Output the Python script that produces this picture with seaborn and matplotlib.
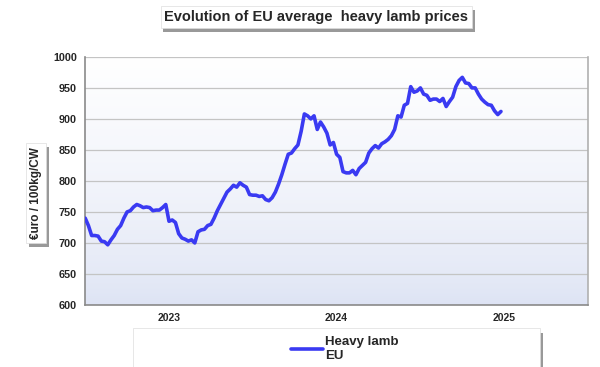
import numpy as np
import pandas as pd
import seaborn as sns
import matplotlib.pyplot as plt
import matplotlib.patheffects as pe
from matplotlib.patches import Rectangle

# weekly EU heavy lamb prices (euro / 100kg CW)
prices_2023 = [740, 728, 712, 712, 711, 703, 702, 697, 705, 712, 722, 728, 740,
               750, 752, 758, 762, 760, 757, 758, 757, 752, 753, 753, 757, 762,
               735, 737, 733, 715, 708, 706, 703, 705, 700, 718, 721, 722, 728,
               730, 740, 752, 762, 772, 782, 787, 793, 790, 797, 793, 790, 778]
prices_2024 = [777, 777, 775, 776, 770, 768, 773, 782, 795, 810, 827, 843, 845,
               852, 858, 880, 908, 905, 900, 905, 883, 895, 887, 877, 858, 862,
               843, 838, 815, 813, 813, 817, 810, 820, 825, 830, 845, 852, 857,
               853, 860, 863, 867, 873, 883, 905, 903, 922, 925, 952, 943, 945]
prices_2025 = [950, 940, 938, 930, 932, 932, 928, 933, 920, 928, 935, 952, 962,
               967, 958, 957, 950, 950, 940, 932, 927, 923, 922, 913, 907, 912]
years = [2023, 2024, 2025]
series_label = "Heavy lamb\nEU"

prices = prices_2023 + prices_2024 + prices_2025
# position in years: 2023.0 = first week of 2023
pos = [y + w / 52 for y, p in zip(years, [prices_2023, prices_2024, prices_2025])
       for w in range(len(p))]
df = pd.DataFrame({"pos": pos, "price": prices})

sns.set_style("white")
plt.rcParams["font.family"] = ["Liberation Sans", "DejaVu Sans"]

fig = plt.figure(figsize=(6, 3.67), dpi=100)
ax = fig.add_axes([0.142, 0.169, 0.838, 0.676])

# background gradient white -> pale blue
grad = np.linspace(0, 1, 256).reshape(-1, 1) ** 0.7
ax.imshow(grad, extent=[0, 1, 0, 1], transform=ax.transAxes, aspect="auto",
          cmap=sns.blend_palette(["#dde3f4", "#ffffff"], as_cmap=True),
          origin="lower", zorder=0)

sns.lineplot(data=df, x="pos", y="price", color="#3a3af2", linewidth=2.6,
             ax=ax, zorder=3, legend=False)

ax.set_xlim(2023, 2026)
ax.set_ylim(600, 1000)
ax.set_yticks(range(600, 1001, 50))
ax.yaxis.grid(True, color="#c4c4c4", linewidth=0.9)
ax.set_xticks(years + [2026])
ax.set_xticklabels([])
ax.set_xticks([y + 0.5 for y in years], minor=True)
ax.set_xticklabels([str(y) for y in years], minor=True, fontweight="bold", fontsize=7.5)
ax.tick_params(axis="x", which="minor", length=0, pad=6)
ax.tick_params(axis="x", which="major", direction="in", length=3, color="#888888")
ax.tick_params(axis="y", direction="out", length=4, color="#888888", labelsize=7.8, pad=2)
for t in ax.get_yticklabels():
    t.set_fontweight("bold")
ax.set_xlabel("")
ax.set_ylabel("")
for s in ["left", "bottom"]:
    ax.spines[s].set_color("#8a8a8a")
    ax.spines[s].set_linewidth(1.2)
ax.spines["right"].set_color("#b0b0b0")
ax.spines["right"].set_linewidth(1.2)
ax.spines["top"].set_visible(False)

shadow = [pe.withSimplePatchShadow(offset=(2, -3), shadow_rgbFace="#555555", alpha=0.6)]

# title box
t = fig.text(0.527, 0.954, "Evolution of EU average  heavy lamb prices", ha="center",
             va="center", fontsize=10.5, fontweight="bold",
             bbox=dict(boxstyle="square,pad=0.25", fc="white", ec="#dddddd", lw=0.5))
t.get_bbox_patch().set_path_effects(shadow)

# y label box
yl = fig.text(0.06, 0.475, "€uro / 100kg/CW", rotation=90, ha="center", va="center",
              fontsize=8.5, fontweight="bold",
              bbox=dict(boxstyle="square,pad=0.35", fc="white", ec="#dddddd", lw=0.5))
yl.get_bbox_patch().set_path_effects(shadow)

# legend box
box = Rectangle((0.222, -0.01), 0.678, 0.115, transform=fig.transFigure,
                fc="white", ec="#dddddd", lw=0.5, zorder=1)
box.set_path_effects(shadow)
fig.patches.append(box)
leg = fig.legend(handles=ax.get_lines()[:1], labels=[series_label], loc="center",
                 bbox_to_anchor=(0.575, 0.048), frameon=False, handlelength=2.4,
                 handletextpad=0.2, prop={"weight": "bold", "size": 9.5})
leg.set_zorder(5)

fig.savefig("out.png", dpi=100)
